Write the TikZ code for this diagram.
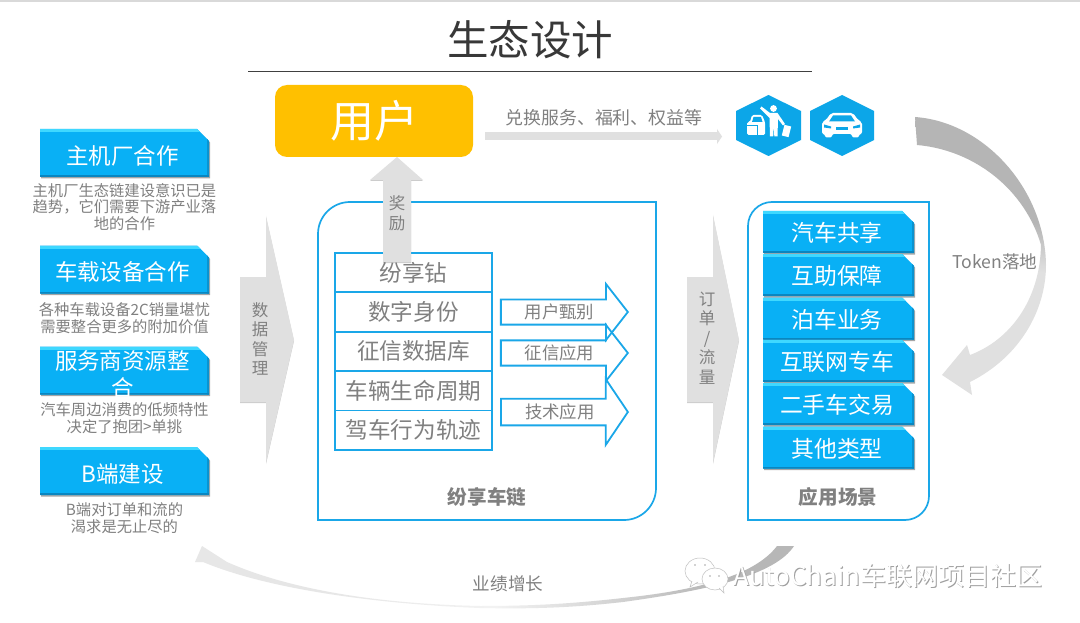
\documentclass[tikz,border=0pt]{standalone}
\usepackage{fontspec}
\setmainfont{Noto Sans CJK SC}
\usetikzlibrary{positioning,shapes.arrows,shapes.misc,shadows,arrows.meta}

\definecolor{frameblue}{HTML}{1AA7E8}
\definecolor{boxblue}{HTML}{09B0F5}
\definecolor{boxlight}{HTML}{3FD8FF}
\definecolor{boxdark}{HTML}{0A86C0}
\definecolor{hexblue}{HTML}{0CA6E8}
\definecolor{arrowgray}{HTML}{E0E0E0}
\definecolor{textgray}{HTML}{808080}
\definecolor{usergold}{HTML}{FFC000}

\pgfdeclareverticalshading{tokenfade}{100bp}{rgb(0bp)=(.88,.88,.88);rgb(47bp)=(.88,.88,.88);rgb(56bp)=(.71,.71,.71);rgb(100bp)=(.71,.71,.71)}
\pgfdeclarehorizontalshading{growthfade}{100bp}{rgb(0bp)=(.92,.92,.92);rgb(35bp)=(.9,.9,.9);rgb(50bp)=(.95,.95,.95);rgb(59bp)=(.84,.84,.84);rgb(68bp)=(.72,.72,.72);rgb(100bp)=(.7,.7,.7)}

\tikzset{
  x=1pt, y=-1pt,
  bevelbox/.style={chamfered rectangle, chamfered rectangle corners=north east,
    chamfered rectangle xsep=6pt, chamfered rectangle ysep=6pt,
    fill=boxblue, inner sep=0pt, font=\fontsize{22.5}{27}\selectfont,
    drop shadow={shadow xshift=1pt, shadow yshift=-1.5pt, opacity=.35, fill=black},
    path picture={
      \fill[boxlight] (path picture bounding box.north west) rectangle ([yshift=-3pt]path picture bounding box.north east);
      \fill[boxdark!70!boxblue] ([xshift=-2pt]path picture bounding box.north east) rectangle (path picture bounding box.south east);
      \fill[boxdark] ([yshift=2pt]path picture bounding box.south west) rectangle (path picture bounding box.south east);
    }},
  sidebox/.style={bevelbox, minimum width=169pt, minimum height=48pt},
  scenebox/.style={bevelbox, minimum width=151pt, minimum height=42pt},
  sidetext/.style={text=white, inner sep=0pt, align=center, xshift=-2pt, yshift=-2.5pt, font=\fontsize{22.5}{27}\selectfont},
  scenetext/.style={text=white, inner sep=0pt, xshift=-1.5pt, yshift=-1pt, font=\fontsize{22.8}{27}\selectfont},
  caption/.style={text=textgray, align=center, inner sep=0pt, font=\fontsize{15.3}{16.8}\selectfont},
  cell/.style={draw=frameblue, line width=1.5pt, minimum width=157pt, minimum height=39.4pt,
    inner sep=0pt, outer sep=0pt, text=textgray, font=\fontsize{22.6}{26}\selectfont},
  outarrow/.style={single arrow, draw=frameblue, line width=1.8pt, fill=white, fill opacity=0, text opacity=1,
    inner sep=0pt, minimum height=127pt, text=textgray, font=\fontsize{17.4}{20}\selectfont},
  grayarrow/.style={fill=arrowgray, drop shadow={shadow xshift=0pt, shadow yshift=-1pt, opacity=.2, fill=black}},
  arrowtext/.style={text=textgray, inner sep=0pt, align=center, font=\fontsize{16.5}{19.6}\selectfont},
  boldlabel/.style={text=textgray, inner sep=0pt, font=\fontsize{19.6}{22}\selectfont\bfseries},
  graylabel/.style={text=textgray, inner sep=0pt, font=\fontsize{17.6}{20}\selectfont},
  framebox/.style={draw=frameblue, line width=1.7pt},
  hexbadge/.style={fill=hexblue},
  markshape/.style={fill=white, draw=gray!50, line width=.5pt}
}

\begin{document}
\begin{tikzpicture}
  \useasboundingbox (0,0) rectangle (1080,623);
  \fill[white] (0,0) rectangle (1080,623);
  \draw[gray!30, line width=2pt] (0,1) -- (1080,1);

  \node[inner sep=0pt, text=black!78, font=\fontsize{41.5}{46}\selectfont] (title) at (530,40) {生态设计};
  \coordinate (rulea) at (248,72);
  \coordinate (ruleb) at (812,72);
  \draw[black!75, line width=1pt] (rulea) -- (ruleb);

  \draw[framebox, rounded corners=32pt] (318,300) -- (318,202) -- (450,202);
  \draw[framebox] (450,202) -- (656,202) -- (656,400);
  \draw[framebox, rounded corners=32pt] (656,400) -- (656,520) -- (450,520);
  \draw[framebox] (450,520) -- (318,520) -- (318,300);

  \node[cell] (celldiamond) at (413.5,272.5) {纷享钻};
  \node[cell, below=0pt of celldiamond] (cellid) {数字身份};
  \node[cell, below=0pt of cellid] (cellcredit) {征信数据库};
  \node[cell, below=0pt of cellcredit] (celllife) {车辆生命周期};
  \node[cell, below=0pt of celllife] (celltrack) {驾车行为轨迹};
  \draw[frameblue, line width=2.2pt] (cellid.south west) -- (cellid.south east);

  \node[outarrow, minimum width=56pt, single arrow head extend=11pt, single arrow tip angle=104, anchor=tip] (appuser) at (629,312) {用户甄别};
  \node[outarrow, minimum width=56pt, single arrow head extend=11pt, single arrow tip angle=104, anchor=tip] (appcredit) at (629,353) {征信应用};
  \node[outarrow, minimum width=66pt, single arrow head extend=13.3pt, single arrow tip angle=112, anchor=tip] (apptech) at (629,412) {技术应用};
  \node[boldlabel] (chainname) at (487,497) {纷享车链};

  \draw[framebox, rounded corners=24pt] (748,300) -- (748,202) -- (850,202);
  \draw[framebox] (850,202) -- (929,202) -- (929,400);
  \draw[framebox, rounded corners=24pt] (929,400) -- (929,520) -- (850,520);
  \draw[framebox] (850,520) -- (748,520) -- (748,300);

  \node[scenebox, label={[scenetext]center:汽车共享}] (sceneshare) at (838.5,232) {\phantom{合合合合}};
  \node[scenebox, label={[scenetext]center:互助保障}] (sceneguard) at (838.5,275) {\phantom{合合合合}};
  \node[scenebox, label={[scenetext]center:泊车业务}] (scenepark) at (838.5,318.5) {\phantom{合合合合}};
  \node[scenebox, label={[scenetext]center:互联网专车}] (scenecar) at (838.5,361) {\phantom{合合合合}};
  \node[scenebox, label={[scenetext]center:二手车交易}] (sceneused) at (838.5,404) {\phantom{合合合合}};
  \node[scenebox, label={[scenetext]center:其他类型}] (sceneother) at (838.5,447.5) {\phantom{合合合合}};
  \node[boldlabel] (scenename) at (838,497) {应用场景};

  \fill[grayarrow] (397,157) -- (423,180) -- (411,180) -- (411,262) -- (383,262) -- (383,180) -- (370,180) -- cycle;
  \node[arrowtext] (rewardtext) at (397,213.5) {奖\\励};

  \node[fill=usergold, rounded corners=12pt, minimum width=198pt, minimum height=72pt, inner sep=0pt,
    text=white, font=\fontsize{44}{50}\selectfont] (user) at (374,121) {用户};
  \node[graylabel, font=\fontsize{17.9}{20}\selectfont] (swaplabel) at (604,118) {兑换服务、福利、权益等};
  \coordinate (swapa) at (485,136.5);
  \coordinate (swapb) at (722,136.5);
  \draw[arrowgray, line width=8pt, -{Triangle[length=5pt,width=15pt]},
    drop shadow={shadow xshift=0pt, shadow yshift=-1.5pt, opacity=.2}] (swapa) -- (swapb);

  \fill[hexbadge] (768.5,95) -- (801,111) -- (801,140) -- (768.5,156) -- (736,140) -- (736,111) -- cycle;
  \fill[hexbadge] (842,95) -- (874,111) -- (874,140) -- (842,156) -- (810,140) -- (810,111) -- cycle;

  \fill[white, rounded corners=1.5pt] (747,135) -- (747,122) -- (750,122) -- (752,115) -- (762,115) -- (765,122) -- (765,135) -- cycle;
  \fill[hexblue] (753.5,117) -- (761,117) -- (762.5,122) -- (752,122) -- cycle;
  \draw[hexblue, line width=.8pt] (747,125) -- (757,125) -- (757,135);
  \fill[white] (773.5,108.5) circle (3.4pt);
  \fill[white] (770,136.5) -- (769.5,118) -- (760,108.5) -- (761.5,106.5) -- (770,113) -- (777.5,113) -- (785,124) -- (783,125.5) -- (778,119) -- (777.5,136.5) -- (774.3,136.5) -- (773.8,125) -- (773.2,136.5) -- cycle;
  \fill[white, rotate around={-14:(786.5,131)}] (783,125.5) rectangle (790,136.5);

  \fill[white, rounded corners=2pt] (831,113) -- (853,113) -- (858,120) -- (862,122) -- (862,134) -- (859,134) -- (859,137.5) -- (852,137.5) -- (852,134) -- (832,134) -- (832,137.5) -- (825,137.5) -- (825,134) -- (822,134) -- (822,122) -- (826,120) -- cycle;
  \fill[hexblue] (833,115.5) -- (851,115.5) -- (855,121.5) -- (829,121.5) -- cycle;
  \fill[hexblue] (836,127.5) rectangle (848,130);
  \fill[hexblue] (824,124.5) -- (831,126.5) -- (831,128.5) -- (824,127.5) -- cycle;
  \fill[hexblue] (860,124.5) -- (853,126.5) -- (853,128.5) -- (860,127.5) -- cycle;

  \node[sidebox, label={[sidetext]center:主机厂合作}] (oem) at (124.5,153) {\phantom{合合合合}};
  \node[caption] (oemnote) at (124.5,207) {主机厂生态链建设意识已是\\趋势，它们需要下游产业落\\地的合作};
  \node[sidebox, label={[sidetext]center:车载设备合作}] (device) at (124.5,269.5) {\phantom{合合合合}};
  \node[caption] (devicenote) at (124.5,318) {各种车载设备2C销量堪忧\\需要整合更多的附加价值};
  \node[sidebox, label={[sidetext, yshift=-1.5pt]center:服务商资源整\\合}] (service) at (124.5,370.5) {\phantom{合合合合}};
  \node[caption] (servicenote) at (124.5,418.5) {汽车周边消费的低频特性\\决定了抱团>单挑};
  \node[sidebox, label={[sidetext]center:B端建设}] (bside) at (124.5,471) {\phantom{合合合合}};
  \node[caption] (bsidenote) at (124.5,518.5) {B端对订单和流的\\渴求是无止尽的};

  \fill[grayarrow] (294,340) -- (266,463) -- (266,402) -- (240,402) -- (240,277) -- (266,277) -- (266,216) -- cycle;
  \node[arrowtext] (datatext) at (260,339) {数\\据\\管\\理};
  \fill[grayarrow] (739,340) -- (713,463) -- (713,402) -- (687,402) -- (687,277) -- (713,277) -- (713,215) -- cycle;
  \node[arrowtext] (ordertext) at (707,338) {订\\单\\/\\流\\量};

  \shade[shading=tokenfade] (915,117) .. controls (985,122) and (1045,190) .. (1046,265)
    .. controls (1046,310) and (1020,357) .. (970,382) -- (972,395) -- (942,375) -- (967,345) -- (970,355)
    .. controls (1010,340) and (1040,300) .. (1041,245) .. controls (1025,190) and (975,150) .. (917,145) -- cycle;
  \node[graylabel] (tokenlabel) at (995,262) {Token落地};

  \shade[shading=growthfade] (794,546) .. controls (775,575) and (710,590) .. (623,602)
    .. controls (570,608) and (530,609) .. (480,608) .. controls (380,604) and (270,590) .. (203,562)
    -- (195,562) -- (202,546) -- (227,562) .. controls (290,590) and (380,604) .. (480,606)
    .. controls (530,606) and (570,604) .. (623,598) .. controls (700,590) and (755,575) .. (777,546) -- cycle;
  \node[graylabel] (growthlabel) at (508,584) {业绩增长};

  \draw[markshape] (700,571) ellipse (15pt and 13pt);
  \draw[markshape] (692,581) -- (690,587) -- (698,582);
  \draw[markshape] (715,579) ellipse (13pt and 11pt);
  \draw[markshape] (719,588) -- (724,593) -- (723,586);
  \fill[gray!70] (695,565) circle (.9pt) (705,565) circle (.9pt) (710,576) circle (.9pt) (719,576) circle (.9pt);
  \node[inner sep=0pt, text=gray!75, font=\fontsize{26}{30}\selectfont] (marka) at (888.8,576.8) {AutoChain车联网项目社区};
  \node[inner sep=0pt, text=white, font=\fontsize{26}{30}\selectfont] (markb) at (888,576) {AutoChain车联网项目社区};
\end{tikzpicture}
\end{document}
